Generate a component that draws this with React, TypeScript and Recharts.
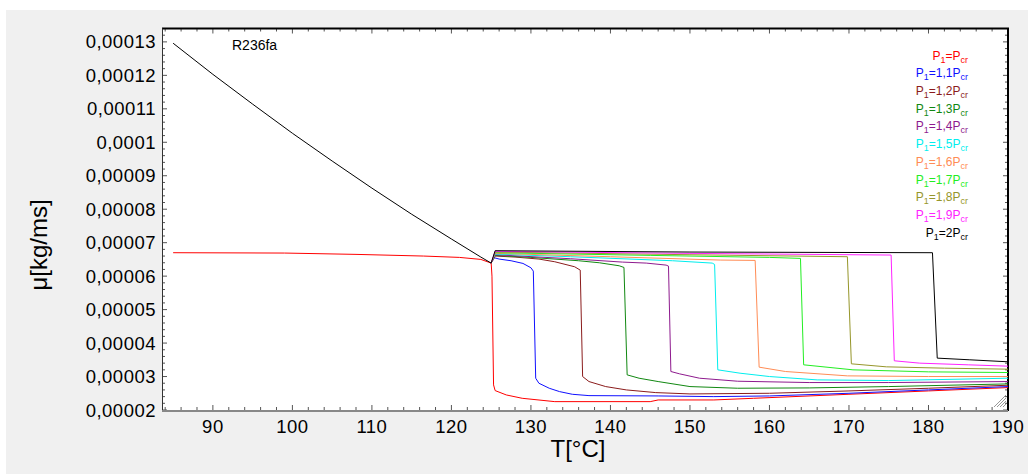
import React from "react";
import { LineChart, Line, XAxis, YAxis, CartesianGrid, Customized } from "recharts";

// values of mu are stored in units of 1e-5 kg/ms
const W = 1028;
const H = 474;
const PLOT = { left: 162, top: 28.5, right: 1008, bottom: 410 };
const X_DOMAIN = [83.6, 190];
const Y_DOMAIN = [2, 13.4];

const xTicks = [90, 100, 110, 120, 130, 140, 150, 160, 170, 180, 190];
const yTicks = [2, 3, 4, 5, 6, 7, 8, 9, 10, 11, 12, 13];

const p10 = [
  [85, 6.7], [99, 6.69], [108, 6.65], [116.5, 6.6], [121, 6.56], [123.7, 6.5], [125, 6.39],
  [125.1, 6.0], [125.3, 2.75], [125.5, 2.58], [126.9, 2.45], [128.9, 2.35], [133, 2.25],
  [145, 2.25], [146, 2.3], [153, 2.3], [158, 2.35], [170, 2.47], [180, 2.57], [190, 2.67],
];
const p11 = [
  [125, 6.39], [125.4, 6.55], [126, 6.51], [127.5, 6.46], [129, 6.38], [130, 6.25], [130.3, 6.15],
  [130.6, 2.95], [131, 2.8], [132.3, 2.65], [133.6, 2.55], [135.2, 2.47], [137.3, 2.43],
  [146, 2.42], [153, 2.4], [160, 2.42], [170, 2.5], [180, 2.6], [190, 2.7],
];
const p12 = [
  [125, 6.39], [125.5, 6.6], [128, 6.57], [131, 6.51], [133, 6.43], [135.5, 6.28], [136.2, 6.18],
  [136.5, 3.0], [137.3, 2.85], [139.4, 2.7], [142, 2.6], [145.7, 2.52], [150, 2.48],
  [160, 2.5], [170, 2.57], [180, 2.65], [190, 2.74],
];
const p13 = [
  [125, 6.39], [125.5, 6.62], [130, 6.56], [136, 6.46], [138.6, 6.4], [141.1, 6.31], [141.7, 6.26],
  [142.1, 3.05], [143.6, 2.95], [146, 2.85], [150, 2.7], [156, 2.65], [165, 2.66], [175, 2.7], [190, 2.78],
];
const p14 = [
  [125, 6.39], [125.5, 6.64], [135, 6.52], [141.5, 6.42], [144.5, 6.39], [147, 6.33], [147.3, 6.3],
  [147.6, 3.15], [148.7, 3.08], [151.2, 2.95], [156, 2.86], [165, 2.82], [175, 2.82], [190, 2.85],
];
const p15 = [
  [125, 6.39], [125.5, 6.66], [135, 6.58], [147.8, 6.46], [152.8, 6.39], [153.1, 6.35],
  [153.5, 3.2], [156.3, 3.1], [160, 3.0], [166, 2.9], [175, 2.88], [190, 2.95],
];
const p16 = [
  [125, 6.39], [125.5, 6.68], [140, 6.58], [153.8, 6.48], [158.2, 6.47],
  [158.7, 3.28], [162, 3.15], [169.8, 3.02], [180, 3.0], [190, 3.0],
];
const p17 = [
  [125, 6.39], [125.5, 6.7], [145, 6.62], [160, 6.56], [163.9, 6.53],
  [164.3, 3.35], [170.5, 3.2], [180, 3.14], [190, 3.12],
];
const p18 = [
  [125, 6.39], [125.5, 6.72], [150, 6.64], [169.8, 6.58],
  [170.3, 3.38], [174.7, 3.29], [182, 3.25], [190, 3.22],
];
const p19 = [
  [125, 6.39], [125.5, 6.74], [150, 6.68], [175.3, 6.63],
  [175.7, 3.47], [178.9, 3.4], [185, 3.35], [190, 3.31],
];
const p20 = [
  [85, 12.96], [90, 12.03], [95, 11.14], [100, 10.27], [105, 9.44], [110, 8.63], [115, 7.85],
  [120, 7.11], [123.7, 6.57], [125, 6.39],
  [125.5, 6.76], [150, 6.72], [180.5, 6.7], [181.1, 3.55], [185.2, 3.5], [190, 3.44],
];

const seriesData = [p10, p11, p12, p13, p14, p15, p16, p17, p18, p19, p20];
const seriesLabels = ["", "1,1", "1,2", "1,3", "1,4", "1,5", "1,6", "1,7", "1,8", "1,9", "2"];
const seriesColors = [
  "#ff0000", "#1010ff", "#8b1c1c", "#118811", "#8e1a8e", "#00eeee",
  "#ff8c55", "#22ee22", "#96962a", "#ff22ff", "#000000",
];

const fontFamily = "'Liberation Sans', Arial, sans-serif";

const fmtY = (v: number) => String(Number((v / 100000).toFixed(5))).replace(".", ",");

const sx = (v: number) =>
  PLOT.left + ((v - X_DOMAIN[0]) / (X_DOMAIN[1] - X_DOMAIN[0])) * (PLOT.right - PLOT.left);
const sy = (v: number) =>
  PLOT.bottom - ((v - Y_DOMAIN[0]) / (Y_DOMAIN[1] - Y_DOMAIN[0])) * (PLOT.bottom - PLOT.top);

const Overlay = () => {
  const xMinor: number[] = [];
  for (let t = 84; t <= 190; t += 2) xMinor.push(t);
  const yMinor: number[] = [];
  for (let i = 10; i <= 67; i++) yMinor.push(i / 5);
  const tc = "#555";
  return (
    <g>
      {xMinor.map((t) => {
        const x = sx(t);
        const len = t % 10 === 0 ? 5 : 3;
        return (
          <g key={"xm" + t}>
            <line x1={x} x2={x} y1={PLOT.bottom} y2={PLOT.bottom - len} stroke={tc} />
            <line x1={x} x2={x} y1={PLOT.top} y2={PLOT.top + len} stroke={tc} />
          </g>
        );
      })}
      {yMinor.map((v) => {
        const y = sy(v);
        const len = Math.abs(v - Math.round(v)) < 1e-6 ? 5 : 3;
        return (
          <g key={"ym" + v}>
            <line x1={PLOT.left} x2={PLOT.left + len} y1={y} y2={y} stroke={tc} />
            <line x1={PLOT.right} x2={PLOT.right - len} y1={y} y2={y} stroke={tc} />
          </g>
        );
      })}
      <line x1={PLOT.left} x2={PLOT.right + 1} y1={PLOT.top} y2={PLOT.top} stroke="#000" strokeWidth={2} />
      <line x1={PLOT.right} x2={PLOT.right} y1={PLOT.top} y2={PLOT.bottom + 1} stroke="#000" strokeWidth={2} />
      <line x1={PLOT.left + 0.5} x2={PLOT.left + 0.5} y1={PLOT.top} y2={PLOT.bottom} stroke="#333" />
      <line x1={PLOT.left} x2={PLOT.right} y1={PLOT.bottom + 1} y2={PLOT.bottom + 1} stroke="#888" strokeWidth={2} />
      {[3, 6, 9, 12].map((k) => (
        <line key={"g" + k} x1={1006 - k} y1={407} x2={1006} y2={407 - k} stroke="#999" />
      ))}
      <text x={232} y={50} fontSize={14} fontFamily={fontFamily} fill="#000">
        R236fa
      </text>
      {seriesLabels.map((lab, i) => (
        <text
          key={"lg" + i}
          x={968}
          y={59.5 + i * 17.74}
          textAnchor="end"
          fontSize={12}
          fontFamily={fontFamily}
          fill={seriesColors[i]}
        >
          <tspan>P</tspan>
          <tspan dy={3} fontSize={9}>1</tspan>
          <tspan dy={-3}>{"=" + lab + "P"}</tspan>
          <tspan dy={3} fontSize={9}>cr</tspan>
        </text>
      ))}
      <text x={578} y={457} textAnchor="middle" fontSize={24} fontFamily={fontFamily} fill="#000">
        T[°C]
      </text>
      <text
        x={47}
        y={245}
        transform="rotate(-90 47 245)"
        textAnchor="middle"
        fontSize={24}
        fontFamily={fontFamily}
        fill="#000"
      >
        μ[kg/ms]
      </text>
    </g>
  );
};

export default function App() {
  const tickStyle = { fontSize: 18.5, fontFamily, fill: "#000", letterSpacing: 0.5 };
  return (
    <div style={{ position: "absolute", left: 0, top: 0, width: W, height: H, background: "#fff" }}>
      <div style={{ position: "absolute", left: 6, top: 10, width: W - 6, height: H - 10, background: "#f0f0f0" }} />
      <div style={{ position: "absolute", left: 0, top: 0 }}>
        <LineChart width={W} height={H} margin={{ top: PLOT.top, right: W - PLOT.right, left: 0, bottom: 0 }}>
          <CartesianGrid horizontal={false} vertical={false} fill="#ffffff" />
          <XAxis
            type="number"
            dataKey="T"
            domain={X_DOMAIN}
            allowDataOverflow
            ticks={xTicks}
            interval={0}
            height={H - PLOT.bottom}
            axisLine={false}
            tickLine={false}
            tickSize={0}
            tickMargin={10}
            tick={tickStyle}
          />
          <YAxis
            type="number"
            domain={Y_DOMAIN}
            allowDataOverflow
            ticks={yTicks}
            interval={0}
            width={PLOT.left}
            axisLine={false}
            tickLine={false}
            tickSize={0}
            tickMargin={6}
            tick={tickStyle}
            tickFormatter={fmtY}
          />
          {seriesData.map((pts, i) => (
            <Line
              key={"s" + i}
              data={pts.map(([T, mu]) => ({ T, mu }))}
              dataKey="mu"
              type="linear"
              stroke={seriesColors[i]}
              strokeWidth={1}
              dot={false}
              activeDot={false}
              isAnimationActive={false}
            />
          ))}
          <Customized component={<Overlay />} />
        </LineChart>
      </div>
    </div>
  );
}
